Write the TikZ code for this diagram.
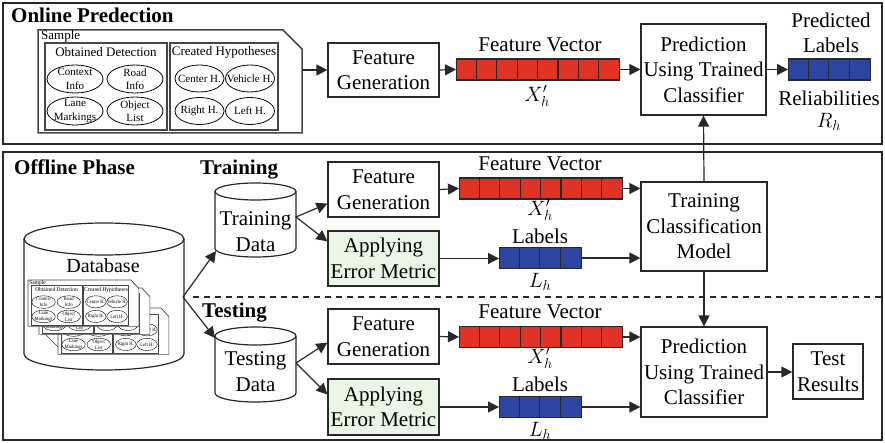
\documentclass[tikz,border=0pt]{standalone}
\usepackage{fontspec}
\setmainfont{Liberation Serif}
\usetikzlibrary{arrows.meta,calc}

\definecolor{vecred}{RGB}{225,50,38}
\definecolor{vecblue}{RGB}{45,68,160}
\definecolor{metricgreen}{RGB}{235,247,230}
\definecolor{docgray}{RGB}{70,70,70}
\definecolor{inkgray}{RGB}{40,40,40}

% switches for the parts of a sample sheet that get lettered
\newif\ifsheethead \sheetheadtrue
\newif\ifsheetrowa \sheetrowatrue

\tikzset{
  main/.style={font=\fontsize{21}{25.5}\selectfont},
  procbox/.style={draw=inkgray, line width=1.2pt, fill=white, align=center, inner sep=0pt, main},
  metricbox/.style={procbox, fill=metricgreen},
  link/.style={line width=1.2pt, draw=inkgray, -{Triangle[length=11pt,width=11pt]}},
  frame/.style={line width=2pt, draw=inkgray},
  title/.style={font=\fontsize{21}{25}\selectfont\bfseries, anchor=base west, inner sep=0pt},
  lbl/.style={main, inner sep=0pt, align=center},
  cylline/.style={line width=1.2pt, draw=inkgray},
  docline/.style={line width=1.5pt, draw=docgray},
  ellline/.style={line width=0.8pt},
  small/.style={inner sep=0pt, font=\fontsize{13}{15}\selectfont},
  tiny/.style={inner sep=0pt, align=center, font=\fontsize{11}{13.5}\selectfont},
  minisheet/.style={xscale=0.42, yscale=0.45, transform shape,
    docline/.style={line width=0.7pt, draw=docgray},
    ellline/.style={line width=0.4pt}},
  no head/.code={\sheetheadfalse},
  no upper row/.code={\sheetrowafalse},
  pics/sampledoc/.style={code={
    \draw[docline, fill=white] (0,0) -- (245,0) -- (264,19) -- (264,103) -- (0,103) -- cycle;
    \draw[docline] (7,13) rectangle (129,100);
    \draw[docline] (132,13) rectangle (240,100);
    \ifsheethead
      \node[small, anchor=west] (-cap) at (3,6) {Sample};
      \node[small] (-obt) at (68,22) {Obtained Detection};
      \node[small] (-hyp) at (186,22) {Created Hypotheses};
    \fi
    \draw[ellline] (37,49) ellipse[x radius=28, y radius=14];
    \draw[ellline] (97,49) ellipse[x radius=28, y radius=14];
    \draw[ellline] (37,81) ellipse[x radius=28, y radius=14];
    \draw[ellline] (97,81) ellipse[x radius=28, y radius=14];
    \draw[ellline] (161.5,48.5) ellipse[x radius=24.5, y radius=13.5];
    \draw[ellline] (212,48.5) ellipse[x radius=24.5, y radius=13.5];
    \draw[ellline] (161.5,81) ellipse[x radius=24.5, y radius=13.5];
    \draw[ellline] (212,81) ellipse[x radius=24.5, y radius=13.5];
    \ifsheetrowa
      \node[tiny] (-ctx) at (37,49) {Context\\Info};
      \node[tiny] (-road) at (97,49) {Road\\Info};
      \node[tiny] (-cen) at (161.5,48.5) {Center H.};
      \node[tiny] (-veh) at (212,48.5) {Vehicle H.};
    \fi
    \node[tiny] (-lane) at (37,81) {Lane\\Markings};
    \node[tiny] (-obj) at (97,81) {Object\\List};
    \node[tiny] (-rgt) at (161.5,81) {Right H.};
    \node[tiny] (-lft) at (212,81) {Left H.};
    \coordinate (-out) at (264,40);
  }}
}

% vector of coloured cells: name, left x, centre y, number of cells, colour
\newcommand\featvec[5]{%
  \node[draw=inkgray, line width=1.2pt, fill=#5, minimum width=#4*20.4, minimum height=21,
        inner sep=0pt, anchor=west] (#1) at (#2,#3) {};
  \pgfmathtruncatemacro\lastcell{#4-1}%
  \foreach \k in {1,...,\lastcell}
    \draw[line width=1.2pt, draw=inkgray] ($(#1.north west)+(\k*20.4,0)$) -- ($(#1.south west)+(\k*20.4,0)$);
}

% upright cylinder: centre x, top centre y, bottom centre y, x radius, y radius
\newcommand\drumshape[5]{%
  \fill[white] (#1-#4,#2) -- (#1-#4,#3) arc[start angle=180,end angle=360,x radius=#4pt,y radius=#5pt] -- (#1+#4,#2) -- cycle;
  \draw[cylline] (#1-#4,#2) -- (#1-#4,#3) arc[start angle=180,end angle=360,x radius=#4pt,y radius=#5pt] -- (#1+#4,#2);
  \draw[cylline, fill=white] (#1,#2) ellipse[x radius=#4pt,y radius=#5pt];
}

\begin{document}
\begin{tikzpicture}[x=1pt,y=-1pt]
\useasboundingbox (0,0) rectangle (885,443);

% ---------------- online part ----------------
\draw[frame] (3,3) rectangle (882,144);
\node[title] (ontitle) at (11,23) {Online Predection};

\pic (smp) at (38,30) {sampledoc};

\node[procbox, minimum width=111, minimum height=54] (fg0) at (383.5,70) {Feature\\Generation};
\featvec{fv0}{456}{69.5}{8}{vecred}
\node[lbl] (fvl0) at (540,45) {Feature Vector};
\node[lbl] (fvx0) at (537,96) {$X'_h$};
\node[procbox, minimum width=125, minimum height=91] (pr0) at (703.5,69.5) {Prediction\\Using Trained\\Classifier};
\featvec{lb0}{788}{69.5}{4}{vecblue}
\node[lbl] (pll0) at (831,33) {Predicted\\Labels};
\node[lbl] (rel0) at (829,98) {Reliabilities};
\node[lbl] (rh0) at (829,122) {$R_h$};

\draw[link] (smp-out) -- (fg0.west);
\draw[link] (fg0.east) -- (fv0.west);
\draw[link] (fv0.east) -- (pr0.west);
\draw[link] (pr0.east) -- (lb0.west);

% ---------------- offline part ----------------
\draw[frame] (3,152) rectangle (882,440);
\node[title] (offtitle) at (14,175) {Offline Phase};
\node[title] (trtitle) at (200,175) {Training};
\node[title] (tetitle) at (202,317) {Testing};

\draw[line width=1.2pt, draw=inkgray, dash pattern=on 6pt off 5pt] (193,297) -- (882,297);

% database with stacked samples
\drumshape{104}{239}{354}{80}{16}
\pic[minisheet, no head] (dbc) at (58,308) {sampledoc};
\pic[minisheet, no head, no upper row] (dbb) at (39,288) {sampledoc};
\draw[line width=0.5pt, draw=docgray] (45,334) -- (58,347);
\pic[minisheet] (dba) at (28,280) {sampledoc};
\node[lbl, font=\fontsize{20}{24}\selectfont] (db) at (103,266) {Database};
\coordinate (db-out) at (183,297);

% training branch
\drumshape{255.5}{191.5}{248.5}{40.5}{8.5}
\node[lbl] (trdata) at (255.5,231.5) {Training\\Data};
\coordinate (trdata-in) at (216,251);
\coordinate (trdata-out) at (296,217);

\node[procbox, minimum width=111, minimum height=55] (fg1) at (383.5,189.5) {Feature\\Generation};
\node[metricbox, minimum width=111, minimum height=55] (ae1) at (383.5,258.5) {Applying\\Error Metric};
\featvec{fv1}{459}{188.5}{8}{vecred}
\node[lbl] (fvl1) at (540,164) {Feature Vector};
\node[lbl] (fvx1) at (540,210) {$X'_h$};
\featvec{lb1}{499}{258}{4}{vecblue}
\node[lbl] (lbl1) at (540,236) {Labels};
\node[lbl] (lh1) at (540,282) {$L_h$};
\node[procbox, minimum width=126, minimum height=89] (tcm) at (704,226.5) {Training\\Classification\\Model};

\draw[link] (db-out) -- (trdata-in);
\draw[link] (trdata-out) -- ($(fg1.south west)+(0,-14)$);
\draw[link] (trdata-out) -- ($(ae1.north west)+(0,11)$);
\draw[link] (fg1.east) -- (fv1.west);
\draw[link] (fv1.east) -- (fv1.east -| tcm.west);
\draw[link] (ae1.east) -- (ae1.east -| lb1.west);
\draw[link] (lb1.east) -- (lb1.east -| tcm.west);
\draw[link] (tcm.north) -- (pr0.south);

% testing branch
\drumshape{255.5}{336}{393}{40.5}{9}
\node[lbl] (tedata) at (255.5,371.5) {Testing\\Data};
\coordinate (tedata-in) at (215,338);
\coordinate (tedata-out) at (296,363);

\node[procbox, minimum width=111, minimum height=55] (fg2) at (383.5,336.5) {Feature\\Generation};
\node[metricbox, minimum width=111, minimum height=56] (ae2) at (383.5,407) {Applying\\Error Metric};
\featvec{fv2}{459}{337}{8}{vecred}
\node[lbl] (fvl2) at (540,312) {Feature Vector};
\node[lbl] (fvx2) at (540,358) {$X'_h$};
\featvec{lb2}{499}{407}{4}{vecblue}
\node[lbl] (lbl2) at (540,384) {Labels};
\node[lbl] (lh2) at (540,431) {$L_h$};
\node[procbox, minimum width=126, minimum height=90] (pr2) at (704,372) {Prediction\\Using Trained\\Classifier};
\node[procbox, minimum width=70, minimum height=55] (tr) at (828,371.5) {Test\\Results};

\draw[link] (db-out) -- (tedata-in);
\draw[link] (tedata-out) -- ($(fg2.south west)+(0,-22)$);
\draw[link] (tedata-out) -- ($(ae2.north west)+(0,16)$);
\draw[link] (fg2.east) -- (fv2.west);
\draw[link] (fv2.east) -- (fv2.east -| pr2.west);
\draw[link] (ae2.east) -- (ae2.east -| lb2.west);
\draw[link] (lb2.east) -- (lb2.east -| pr2.west);
\draw[link] (tcm.south) -- (pr2.north);
\draw[link] (pr2.east) -- (pr2.east -| tr.west);

\end{tikzpicture}
\end{document}
